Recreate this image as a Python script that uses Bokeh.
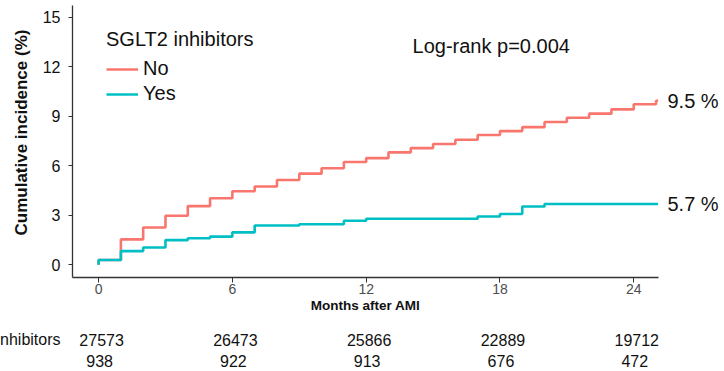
from bokeh.plotting import figure
from bokeh.layouts import column
from bokeh.models import (Range1d, FixedTicker, Label, Legend, LegendItem,
                          LinearAxis, Title)
from bokeh.core.properties import value
from bokeh.embed import file_html
from bokeh.resources import INLINE

# ---- data ----
months = [0, 0, 1, 2, 3, 4, 5, 6, 7, 8, 9, 10, 11, 12, 13, 14, 15, 16, 17,
          18, 19, 20, 21, 22, 23, 24, 25, 25.1]
inc_no = [0, 0.28, 1.53, 2.25, 2.97, 3.55, 4.03, 4.45, 4.74, 5.13, 5.52, 5.85,
          6.23, 6.46, 6.81, 7.07, 7.32, 7.58, 7.86, 8.10, 8.34, 8.65, 8.91,
          9.16, 9.42, 9.73, 9.94, 9.94]
inc_yes = [0, 0.28, 0.82, 1.04, 1.49, 1.60, 1.70, 1.96, 2.37, 2.37, 2.45, 2.45,
           2.66, 2.78, 2.78, 2.78, 2.78, 2.78, 2.92, 3.07, 3.53, 3.68, 3.68,
           3.68, 3.68, 3.68, 3.68, 3.68]
x_ticks = [0, 6, 12, 18, 24]
y_ticks = [0, 3, 6, 9, 12, 15]
risk_times = [0, 6, 12, 18, 24]
risk_no = [27573, 26473, 25866, 22889, 19712]
risk_yes = [938, 922, 913, 676, 472]
end_labels = ["9.5 %", "5.7 %"]
group_names = ["No", "Yes"]
legend_title = "SGLT2 inhibitors"
risk_row_label = "nhibitors"
pvalue_text = "Log-rank p=0.004"
x_title = "Months after AMI"
y_title = "Cumulative incidence (%)"

RED = "#F8766D"
TEAL = "#00BFC4"
FONT = "Liberation Sans"
TXT = "#111111"

W = 724
X0, X1 = -1.17, 25.11
LEFT, RIGHT = 72, 66

p = figure(width=W, height=322, output_backend="svg", toolbar_location=None,
           x_range=Range1d(X0, X1), y_range=Range1d(-0.78, 15.72),
           min_border_left=LEFT, min_border_right=RIGHT, min_border_top=5,
           min_border_bottom=45)
p.frame_align = False
p.outline_line_color = None
p.xgrid.visible = False
p.ygrid.visible = False

r_no = p.step(months, inc_no, mode="after", line_color=RED, line_width=2.6)
r_yes = p.step(months, inc_yes, mode="after", line_color=TEAL, line_width=2.6)

# axes
ax = p.xaxis[0]
ax.ticker = FixedTicker(ticks=x_ticks)
ax.axis_line_color = "#333333"
ax.axis_line_width = 1.3
ax.major_tick_line_color = "#333333"
ax.major_tick_out = 5
ax.major_tick_in = 0
ax.minor_tick_line_color = None
ax.major_label_text_font = FONT
ax.major_label_text_font_size = "14px"
ax.major_label_text_color = "#4d4d4d"
ax.major_label_standoff = 1
ax.axis_label = x_title
ax.axis_label_text_font = FONT
ax.axis_label_text_font_style = "bold"
ax.axis_label_text_font_size = "13.5px"
ax.axis_label_text_color = TXT
ax.axis_label_standoff = 1

ay = p.yaxis[0]
ay.ticker = FixedTicker(ticks=y_ticks)
ay.axis_line_color = "#333333"
ay.axis_line_width = 1.3
ay.major_tick_line_color = "#333333"
ay.major_tick_out = 4
ay.major_tick_in = 0
ay.minor_tick_line_color = None
ay.major_label_text_font = FONT
ay.major_label_text_font_size = "16px"
ay.major_label_text_color = TXT
ay.major_label_standoff = 8

# y axis title
p.add_layout(Title(text=y_title, align="left", offset=42, standoff=18,
                   text_font=FONT, text_font_style="bold",
                   text_font_size="17px", text_color=TXT), "left")

# end-of-curve percentages on a right-hand axis
end_axis = LinearAxis(ticker=FixedTicker(ticks=[inc_no[-1], inc_yes[-1]]),
                      major_label_overrides={inc_no[-1]: end_labels[0],
                                             inc_yes[-1]: end_labels[1]},
                      axis_line_color=None, major_tick_line_color=None,
                      minor_tick_line_color=None, major_label_standoff=3,
                      major_label_text_font=FONT,
                      major_label_text_font_size="20px",
                      major_label_text_color=TXT)
p.add_layout(end_axis, "right")

# legend
legend = Legend(items=[LegendItem(label=group_names[0], renderers=[r_no]),
                       LegendItem(label=group_names[1], renderers=[r_yes])],
                location=(34, 172), title=legend_title,
                title_text_font=FONT, title_text_font_size="20px",
                title_text_font_style="normal", title_text_color=TXT,
                title_standoff=6,
                label_text_font=FONT, label_text_font_size="20px",
                label_text_color=TXT,
                glyph_width=32, glyph_height=20, label_standoff=5,
                spacing=2, padding=0, margin=0,
                border_line_color=None, background_fill_alpha=0)
p.add_layout(legend)

# p-value
p.add_layout(Label(x=14.08, y=13.27, text=pvalue_text, text_align="left",
                   text_baseline="middle", text_font=FONT,
                   text_font_size="20px", text_color=TXT))

# ---- numbers at risk table, aligned to the same month scale ----
scale = (W - LEFT - RIGHT) / (X1 - X0)
t = figure(width=W, height=49, output_backend="svg", toolbar_location=None,
           x_range=Range1d(X0 - LEFT / scale, X0 + (W - LEFT) / scale),
           y_range=Range1d(1.52, -0.81),
           x_axis_location=None, y_axis_location=None,
           min_border_left=0, min_border_right=0, min_border_top=0,
           min_border_bottom=0)
t.frame_align = False
t.outline_line_color = None
t.xgrid.visible = False
t.ygrid.visible = False
t.text(x=risk_times, y=[0] * len(risk_times), text=[str(v) for v in risk_no],
       text_align="center", text_baseline="middle", text_font=value(FONT),
       text_font_size="16px", text_color=TXT, x_offset=3)
t.text(x=risk_times, y=[1] * len(risk_times), text=[str(v) for v in risk_yes],
       text_align="center", text_baseline="middle", text_font=value(FONT),
       text_font_size="16px", text_color=TXT, x_offset=1)
t.text(x=[X0 - (LEFT - 60) / scale], y=[0], text=[risk_row_label],
       text_align="right", text_baseline="middle", text_font=value(FONT),
       text_font_size="16px", text_color=TXT)

layout = column(p, t, spacing=0)
open("out.html", "w").write(file_html(layout, INLINE))
